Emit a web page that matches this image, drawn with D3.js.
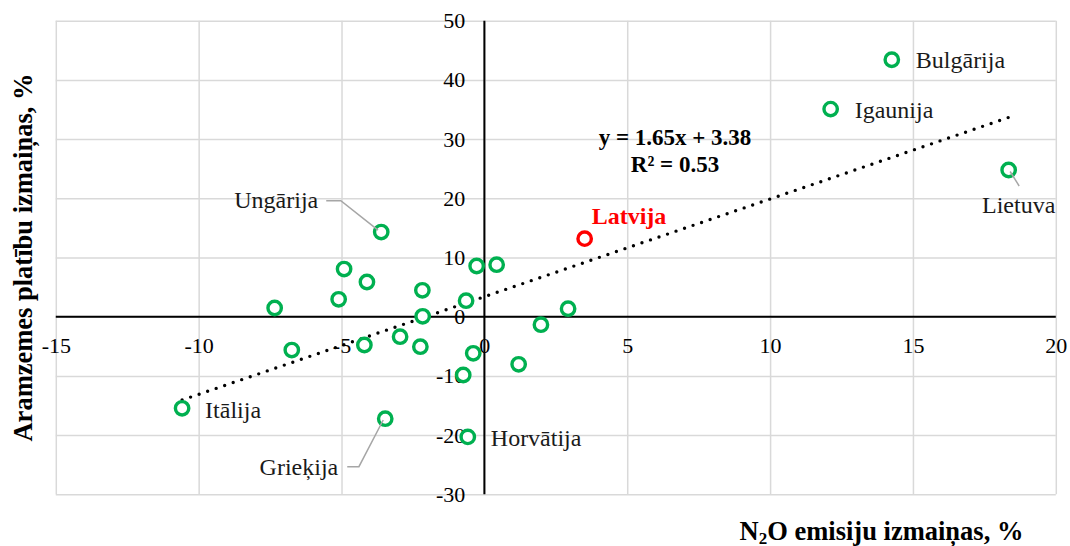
<!DOCTYPE html>
<html>
<head>
<meta charset="utf-8">
<script src="https://cdn.jsdelivr.net/npm/d3@7"></script>
<style>
  html, body { margin: 0; padding: 0; background: #fff; }
  svg { display: block; }
  svg text { font-family: "Liberation Serif", "Times New Roman", serif !important; }
</style>
</head>
<body>
<svg id="chart" width="1070" height="546"></svg>
<script>
// N2O emission change (%) per country
const n2oChange = [14.26, 12.12, 18.35, 3.51, -3.61, -4.91, -4.11, -5.10, -7.34, -2.17, -2.16, -0.64, -0.27,
  0.43, 2.93, 1.98, 1.20, -0.39, -0.74, -2.24, -2.95, -6.74, -10.58, -4.20, -3.47, -0.58];
// Arable land area change (%) per country
const arableChange = [43.4, 35.07, 24.78, 13.18, 14.3, 8.05, 5.86, 2.94, 1.47, 4.46, 0.07, 2.7, 8.56,
  8.78, 1.35, -1.35, -8.04, -6.18, -9.85, -5.07, -3.38, -5.63, -15.47, -4.78, -17.23, -20.3];
// Country names (only the labelled ones are named)
const countryNames = ["Bulgārija", "Igaunija", "Lietuva", "Latvija", "Ungārija", "", "", "", "", "", "", "", "",
  "", "", "", "", "", "", "", "", "", "Itālija", "", "Grieķija", "Horvātija"];
const highlighted = "Latvija";

const xTicks = [-15, -10, -5, 0, 5, 10, 15, 20];
const yTicks = [-30, -20, -10, 0, 10, 20, 30, 40, 50];

// Linear trend
const trendSlope = 1.65;
const trendIntercept = 3.38;
const trendR2 = 0.53;

const xTitle = ["N", "2", "O emisiju izmaiņas, %"];
const yTitle = "Aramzemes platību izmaiņas, %";

// ---- layout ----
const plot = { left: 55.8, right: 1055.8, top: 20.7, bottom: 494.3 };
const green = "#00B050", red = "#FF0000", gridColor = "#d9d9d9";

const svg = d3.select("#chart");
const x = d3.scaleLinear().domain([-15, 20]).range([plot.left, plot.right]);
const y = d3.scaleLinear().domain([-30, 50]).range([plot.bottom, plot.top]);

// gridlines (these also form the plot border)
const gx = svg.append("g")
  .attr("transform", `translate(0,${plot.bottom})`)
  .call(d3.axisBottom(x).tickValues(xTicks).tickSize(-(plot.bottom - plot.top)).tickFormat(""));
const gy = svg.append("g")
  .attr("transform", `translate(${plot.left},0)`)
  .call(d3.axisLeft(y).tickValues(yTicks).tickSize(-(plot.right - plot.left)).tickFormat(""));
[gx, gy].forEach(g => {
  g.select(".domain").remove();
  g.selectAll(".tick line").attr("stroke", gridColor).attr("stroke-width", 1.5);
});

// axis lines crossing at the origin
svg.append("line")
  .attr("x1", plot.left).attr("x2", plot.right)
  .attr("y1", y(0)).attr("y2", y(0))
  .attr("stroke", "#000").attr("stroke-width", 2);
svg.append("line")
  .attr("x1", x(0)).attr("x2", x(0))
  .attr("y1", plot.top).attr("y2", plot.bottom)
  .attr("stroke", "#000").attr("stroke-width", 2);

// tick labels
const xLab = svg.append("g")
  .attr("transform", `translate(0,${y(0)})`)
  .call(d3.axisBottom(x).tickValues(xTicks).tickSize(0).tickPadding(21).tickFormat(d => String(d)));
const yLab = svg.append("g")
  .attr("transform", `translate(${x(0)},0)`)
  .call(d3.axisLeft(y).tickValues(yTicks).tickSize(0).tickPadding(19).tickFormat(d => String(d)));
[xLab, yLab].forEach(g => {
  g.select(".domain").remove();
  g.selectAll("text").attr("font-size", 22).attr("fill", "#000");
});

// trend line over the data range
const xMin = d3.min(n2oChange), xMax = d3.max(n2oChange);
svg.append("line")
  .attr("x1", x(xMin)).attr("y1", y(trendSlope * xMin + trendIntercept))
  .attr("x2", x(xMax)).attr("y2", y(trendSlope * xMax + trendIntercept))
  .attr("stroke", "#000").attr("stroke-width", 3.4)
  .attr("stroke-linecap", "round").attr("stroke-dasharray", "0 9");

// points
const points = n2oChange.map((v, i) => ({ x: v, y: arableChange[i], name: countryNames[i] }));
svg.append("g").selectAll("circle")
  .data(points)
  .join("circle")
  .attr("cx", d => x(d.x)).attr("cy", d => y(d.y))
  .attr("r", 6.7)
  .attr("fill", "#fff")
  .attr("stroke", d => d.name === highlighted ? red : green)
  .attr("stroke-width", 3.4);

// data label placement: offset from the point, anchor, optional leader polyline
const labelPlacement = {
  "Bulgārija": { dx: 24, dy: 8.5, anchor: "start" },
  "Igaunija": { dx: 24, dy: 9, anchor: "start" },
  "Lietuva": { dx: 10, dy: 43, anchor: "middle", leader: [[1.5, 1.5], [10.5, 16]] },
  "Latvija": { dx: 7, dy: -15, anchor: "start" },
  "Ungārija": { dx: -63, dy: -24, anchor: "end", leader: [[-55, -31.3], [-40.4, -31.3], [-3.2, -2]] },
  "Itālija": { dx: 23, dy: 10, anchor: "start" },
  "Grieķija": { dx: -47, dy: 56.3, anchor: "end", leader: [[-38, 48], [-26.3, 48], [-2, 1.3]] },
  "Horvātija": { dx: 23, dy: 9, anchor: "start" }
};

const labelled = points.filter(d => d.name && labelPlacement[d.name]);

svg.append("g").selectAll("polyline")
  .data(labelled.filter(d => labelPlacement[d.name].leader))
  .join("polyline")
  .attr("points", d => labelPlacement[d.name].leader
    .map(p => [x(d.x) + p[0], y(d.y) + p[1]].join(",")).join(" "))
  .attr("fill", "none").attr("stroke", "#a6a6a6").attr("stroke-width", 1.5);

svg.append("g").selectAll("text")
  .data(labelled)
  .join("text")
  .attr("x", d => x(d.x) + labelPlacement[d.name].dx)
  .attr("y", d => y(d.y) + labelPlacement[d.name].dy)
  .attr("text-anchor", d => labelPlacement[d.name].anchor)
  .attr("font-size", 24)
  .attr("font-weight", d => d.name === highlighted ? "bold" : "normal")
  .attr("fill", d => d.name === highlighted ? red : "#1a1a1a")
  .text(d => d.name);

// trend equation
const eq = svg.append("text")
  .attr("text-anchor", "middle").attr("font-size", 23).attr("font-weight", "bold");
eq.append("tspan").attr("x", 675).attr("y", 145)
  .text(`y = ${trendSlope.toFixed(2)}x + ${trendIntercept.toFixed(2)}`);
eq.append("tspan").attr("x", 675).attr("y", 171.5)
  .text(`R² = ${trendR2.toFixed(2)}`);

// axis titles
const xt = svg.append("text")
  .attr("x", 881.5).attr("y", 539.5)
  .attr("text-anchor", "middle").attr("font-size", 26.5).attr("font-weight", "bold");
xt.append("tspan").text(xTitle[0]);
xt.append("tspan").attr("font-size", 17).attr("dy", 4).text(xTitle[1]);
xt.append("tspan").attr("dy", -4).text(xTitle[2]);

svg.append("text")
  .attr("transform", `translate(32,${(plot.top + plot.bottom) / 2}) rotate(-90)`)
  .attr("text-anchor", "middle").attr("font-size", 26.5).attr("font-weight", "bold")
  .text(yTitle);
</script>
</body>
</html>
